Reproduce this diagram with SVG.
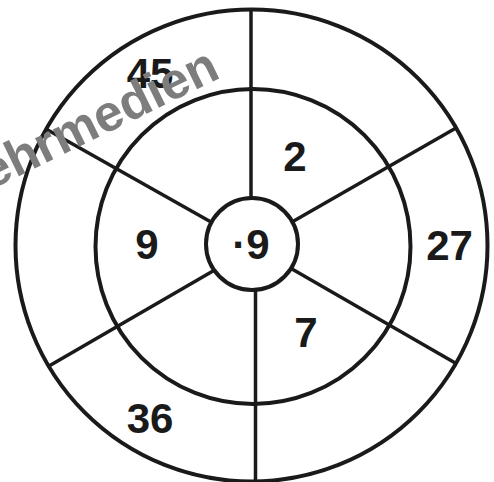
<svg xmlns="http://www.w3.org/2000/svg" width="494" height="482" viewBox="0 0 494 482">
<style>
.ring{fill:none;stroke:#1a1a1a;stroke-width:4}
.spoke{stroke:#1a1a1a;stroke-width:3.5;stroke-linecap:butt}
.num{font-family:"Liberation Sans",Arial,sans-serif;font-weight:bold;font-size:42px;fill:#1a1a1a;text-anchor:middle}
.wm{font-family:"Liberation Sans",Arial,sans-serif;font-weight:bold;font-size:51px;fill:#7d7d7d;text-anchor:end}
</style>
<rect width="494" height="482" fill="#fff"/>
<g id="rings">
<circle class="ring" cx="251.5" cy="245.5" r="236"/>
<circle class="ring" cx="253" cy="246.5" r="157.5"/>
<circle class="ring" cx="252" cy="244" r="46"/>
</g>
<g id="connectors">
<line class="spoke" x1="251" y1="10" x2="251" y2="198"/>
<line class="spoke" x1="255.5" y1="290" x2="255.5" y2="481"/>
<line class="spoke" x1="46" y1="129" x2="211" y2="222"/>
<line class="spoke" x1="292" y1="222" x2="456" y2="128"/>
<line class="spoke" x1="213" y1="271" x2="49" y2="366"/>
<line class="spoke" x1="292" y1="269" x2="457" y2="364"/>
</g>
<g id="n45"><text class="num" x="150" y="88">45</text></g>
<g id="n2"><text class="num" x="295" y="171">2</text></g>
<g id="n27"><text class="num" x="449.5" y="260">27</text></g>
<g id="n9"><text class="num" x="147" y="259">9</text></g>
<g id="ncenter"><text class="num" x="251" y="259">·9</text></g>
<g id="n7"><text class="num" x="306" y="347">7</text></g>
<g id="n36"><text class="num" x="150" y="433">36</text></g>
<text class="wm" transform="translate(222 77) rotate(-26)">Lehrmedien</text>
</svg>
